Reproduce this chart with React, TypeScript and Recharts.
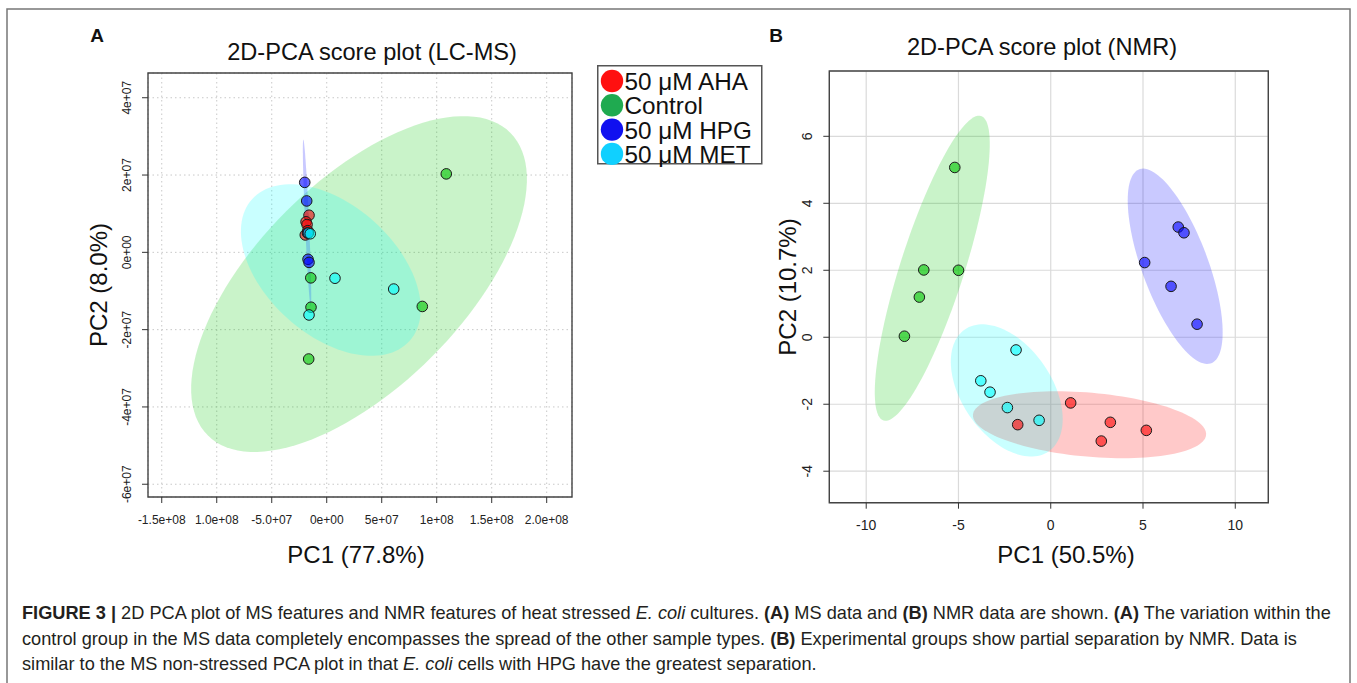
import React from 'react';
import { ScatterChart, Scatter, XAxis, YAxis, CartesianGrid, ReferenceArea, Legend } from 'recharts';

const FONT = "'Liberation Sans', Arial, Helvetica, sans-serif";

const groups = ['50 μM AHA', 'Control', '50 μM HPG', '50 μM MET'];
const legendColors = ['#ff1010', '#1faa50', '#1010f0', '#10d0ff'];
const baseColors = ['#ff0000', '#00c400', '#0000ff', '#00ffff'];

// ---------- Panel A (LC-MS) ----------
const msAHA = [[-1.61e7, 9.6e6], [-1.88e7, 7.9e6], [-1.79e7, 7.2e6], [-1.95e7, 4.5e6], [-1.72e7, 5.6e6]];
const msControl = [[1.087e8, 2.03e7], [-1.45e7, -6.6e6], [-1.43e7, -1.42e7], [8.69e7, -1.4e7], [-1.64e7, -2.76e7]];
const msHPG = [[-2.0e7, 1.81e7], [-1.82e7, 1.33e7], [-1.7e7, -1.8e6], [-1.61e7, -2.6e6], [-1.75e7, 5.0e6]];
const msMET = [[7.5e6, -6.7e6], [6.09e7, -9.5e6], [-1.61e7, -1.62e7], [-1.67e7, 5.0e6], [-1.5e7, 4.8e6]];

const msXTicks = [-1.5e8, -1e8, -5e7, 0, 5e7, 1e8, 1.5e8, 2e8];
const msXLabels = ['-1.5e+08', '1.0e+08', '-5.0+07', '0e+00', '5e+07', '1e+08', '1.5e+08', '2.0e+08'];
const msYTicks = [-6e7, -4e7, -2e7, 0, 2e7, 4e7];
const msYLabels = ['-6e+07', '-4e+07', '-2e+07', '0e+00', '2e+07', '4e+07'];
const msXDomain = [-1.625e8, 2.23e8];
const msYDomain = [-6.33e7, 4.64e7];

// ellipse: centre and two conjugate semi-axis vectors (data units)
const msEllipses = [
  { g: 0, cx: -1.79e7, cy: 7.84e6, ux: 0, uy: 2.6e6, vx: 2.7e6, vy: 0 },
  { g: 1, cx: 2.936e7, cy: -8.2e6, ux: 1.3755e8, uy: 3.915e7, vx: 6.62e7, vy: -1.884e7 },
  { g: 2, cx: -1.79e7, cy: 7.58e6, ux: -3.36e6, uy: 2.158e7, vx: 1.82e6, vy: 0 },
  { g: 3, cx: 3.73e6, cy: -4.58e6, ux: 7.16e7, uy: -1.834e7, vx: -3.95e7, vy: -1.25e7 },
];

// ---------- Panel B (NMR) ----------
const nmrAHA = [[-1.79, -2.61], [1.08, -1.96], [3.23, -2.54], [2.74, -3.1], [5.18, -2.78]];
const nmrControl = [[-5.2, 5.07], [-6.88, 2.01], [-5.0, 2.0], [-7.12, 1.2], [-7.93, 0.03]];
const nmrHPG = [[6.91, 3.29], [7.22, 3.12], [5.09, 2.23], [6.52, 1.52], [7.93, 0.39]];
const nmrMET = [[-1.88, -0.38], [-3.79, -1.3], [-3.29, -1.64], [-2.35, -2.1], [-0.63, -2.48]];

const nmrXTicks = [-10, -5, 0, 5, 10];
const nmrYTicks = [-4, -2, 0, 2, 4, 6];
const nmrXDomain = [-12.0, 11.79];
const nmrYDomain = [-4.94, 7.95];

const nmrEllipses = [
  { g: 0, cx: 2.102, cy: -2.612, ux: 6.316, uy: -0.304, vx: -0.151, vy: -0.952 },
  { g: 1, cx: -6.42, cy: 2.06, ux: 2.643, uy: 4.546, vx: 1.651, vy: -0.291 },
  { g: 2, cx: 6.744, cy: 2.119, ux: -1.511, uy: 2.898, vx: 2.082, vy: -0.329 },
  { g: 3, cx: -2.384, cy: -1.588, ux: 2.27, uy: -1.821, vx: -2.01, vy: -0.761 },
];

const toPts = (arr: number[][]) => arr.map(([x, y]) => ({ x, y }));

function ellipseOutline(e: any, n = 120) {
  const pts = [];
  for (let i = 0; i <= n; i++) {
    const t = (2 * Math.PI * i) / n;
    pts.push({ x: e.cx + e.ux * Math.cos(t) + e.vx * Math.sin(t), y: e.cy + e.uy * Math.cos(t) + e.vy * Math.sin(t) });
  }
  return pts;
}

const polyPath = (points: any[]) =>
  points.map((p, i) => `${i === 0 ? 'M' : 'L'}${p.x},${p.y}`).join(' ') + ' Z';

const dot = (color: string) => (p: any) => (
  <circle cx={p.cx} cy={p.cy} r={5.3} fill={color} fillOpacity={0.6} stroke="#1a1a1a" strokeWidth={1} />
);

const noShape = () => <g />;

function ellipseSeries(list: any[], prefix: string) {
  return list.map((e) => (
    <Scatter
      key={prefix + e.g}
      data={ellipseOutline(e)}
      shape={noShape}
      lineType="joint"
      line={(p: any) => <path d={polyPath(p.points)} fill={baseColors[e.g]} fillOpacity={0.21} stroke="none" />}
      legendType="none"
      isAnimationActive={false}
    />
  ));
}

const LegendBox = () => (
  <svg width={168} height={102} style={{ display: 'block' }}>
    <rect x={0.75} y={0.75} width={164} height={98} fill="#fff" stroke="#555" strokeWidth={1.5} />
    {groups.map((g, i) => (
      <g key={g}>
        <circle cx={15} cy={16 + i * 24.3} r={11.2} fill={legendColors[i]} />
        <text x={27.5} y={16.5 + i * 24.3} dominantBaseline="central" fontSize={24.3} fontFamily={FONT} fill="#111">
          {g}
        </text>
      </g>
    ))}
  </svg>
);

const Caption = () => (
  <text fontFamily={FONT} fontSize={18.2} fill="#231f20">
    <tspan x={22} y={619}>
      <tspan fontWeight="bold">FIGURE 3 |</tspan> 2D PCA plot of MS features and NMR features of heat stressed{' '}
      <tspan fontStyle="italic">E. coli</tspan> cultures. <tspan fontWeight="bold">(A)</tspan> MS data and{' '}
      <tspan fontWeight="bold">(B)</tspan> NMR data are shown. <tspan fontWeight="bold">(A)</tspan> The variation within the
    </tspan>
    <tspan x={22} y={644.5}>
      control group in the MS data completely encompasses the spread of the other sample types.{' '}
      <tspan fontWeight="bold">(B)</tspan> Experimental groups show partial separation by NMR. Data is
    </tspan>
    <tspan x={22} y={670}>
      similar to the MS non-stressed PCA plot in that <tspan fontStyle="italic">E. coli</tspan> cells with HPG have the greatest separation.
    </tspan>
  </text>
);

export default function App() {
  const msGroups = [msAHA, msControl, msHPG, msMET];
  const nmrGroups = [nmrAHA, nmrControl, nmrHPG, nmrMET];

  const msXTick = (p: any) => {
    const i = msXTicks.indexOf(p.payload.value);
    return (
      <text x={p.x} y={p.y + 15} textAnchor="middle" dominantBaseline="central" fontSize={12} fontFamily={FONT} fill="#222">
        {msXLabels[i]}
      </text>
    );
  };
  const msYTick = (p: any) => {
    const i = msYTicks.indexOf(p.payload.value);
    const x = p.x - 13;
    return (
      <text x={x} y={p.y} transform={`rotate(-90 ${x} ${p.y})`} textAnchor="middle" dominantBaseline="central" fontSize={12} fontFamily={FONT} fill="#222">
        {msYLabels[i]}
      </text>
    );
  };
  const nmrXTick = (p: any) => (
    <text x={p.x} y={p.y + 14} textAnchor="middle" dominantBaseline="central" fontSize={14} fontFamily={FONT} fill="#222">
      {p.payload.value}
    </text>
  );
  const nmrYTick = (p: any) => {
    const x = p.x - 14.5;
    return (
      <text x={x} y={p.y} transform={`rotate(-90 ${x} ${p.y})`} textAnchor="middle" dominantBaseline="central" fontSize={14} fontFamily={FONT} fill="#222">
        {p.payload.value}
      </text>
    );
  };

  return (
    <div style={{ position: 'absolute', left: 0, top: 0, width: 1357, height: 683, background: '#fff', overflow: 'hidden', fontFamily: FONT }}>
      <svg width={1357} height={683} style={{ position: 'absolute', left: 0, top: 0 }}>
        <rect x={7} y={9} width={1343} height={720} fill="none" stroke="#777" strokeWidth={1.5} />
        <text x={97} y={42} textAnchor="middle" fontSize={19} fontWeight="bold" fontFamily={FONT} fill="#111">A</text>
        <text x={776} y={42} textAnchor="middle" fontSize={19} fontWeight="bold" fontFamily={FONT} fill="#111">B</text>
        <text x={372} y={52} textAnchor="middle" dominantBaseline="central" fontSize={23.6} fontFamily={FONT} fill="#111">2D-PCA score plot (LC-MS)</text>
        <text x={1042} y={47} textAnchor="middle" dominantBaseline="central" fontSize={23.6} fontFamily={FONT} fill="#111">2D-PCA score plot (NMR)</text>
        <text x={356} y={554} textAnchor="middle" dominantBaseline="central" fontSize={24} fontFamily={FONT} fill="#111">PC1 (77.8%)</text>
        <text x={1066} y={554} textAnchor="middle" dominantBaseline="central" fontSize={24} fontFamily={FONT} fill="#111">PC1 (50.5%)</text>
        <text x={98} y={285} transform="rotate(-90 98 285)" textAnchor="middle" dominantBaseline="central" fontSize={24} fontFamily={FONT} fill="#111">PC2 (8.0%)</text>
        <text x={787} y={287} transform="rotate(-90 787 287)" textAnchor="middle" dominantBaseline="central" fontSize={24} fontFamily={FONT} fill="#111">PC2 (10.7%)</text>
        <Caption />
      </svg>

      <div style={{ position: 'absolute', left: 0, top: 0 }}>
        <ScatterChart width={780} height={560} margin={{ top: 73, left: 108, right: 208, bottom: 23 }}>
          <CartesianGrid stroke="#c8c8c8" strokeDasharray="1.5 3" />
          <XAxis type="number" dataKey="x" domain={msXDomain} ticks={msXTicks} interval={0} allowDataOverflow height={40}
            axisLine={false} tickLine={{ stroke: '#333' }} tickSize={6} tick={msXTick} />
          <YAxis type="number" dataKey="y" domain={msYDomain} ticks={msYTicks} interval={0} allowDataOverflow width={40}
            axisLine={false} tickLine={{ stroke: '#333' }} tickSize={6} tick={msYTick} />
          {ellipseSeries(msEllipses, 'msE')}
          {msGroups.map((arr, i) => (
            <Scatter key={'ms' + i} name={groups[i]} data={toPts(arr)} shape={dot(baseColors[i])} isAnimationActive={false} />
          ))}
          <ReferenceArea x1={msXDomain[0]} x2={msXDomain[1]} y1={msYDomain[0]} y2={msYDomain[1]} fill="none" stroke="#444" strokeWidth={1.4} fillOpacity={0} />
          <Legend layout="vertical" align="center" verticalAlign="middle" content={() => <LegendBox />}
            wrapperStyle={{ left: 597, top: 65, width: 168, height: 102 }} />
        </ScatterChart>
      </div>

      <div style={{ position: 'absolute', left: 700, top: 0 }}>
        <ScatterChart width={657} height={560} margin={{ top: 71, left: 89.3, right: 88.7, bottom: 17.3 }}>
          <CartesianGrid stroke="#dadada" strokeWidth={1.2} />
          <XAxis type="number" dataKey="x" domain={nmrXDomain} ticks={nmrXTicks} interval={0} allowDataOverflow height={40}
            axisLine={false} tickLine={{ stroke: '#333' }} tickSize={6} tick={nmrXTick} />
          <YAxis type="number" dataKey="y" domain={nmrYDomain} ticks={nmrYTicks} interval={0} allowDataOverflow width={40}
            axisLine={false} tickLine={{ stroke: '#333' }} tickSize={6} tick={nmrYTick} />
          {ellipseSeries(nmrEllipses, 'nmrE')}
          {nmrGroups.map((arr, i) => (
            <Scatter key={'nmr' + i} name={groups[i]} data={toPts(arr)} shape={dot(baseColors[i])} isAnimationActive={false} />
          ))}
          <ReferenceArea x1={nmrXDomain[0]} x2={nmrXDomain[1]} y1={nmrYDomain[0]} y2={nmrYDomain[1]} fill="none" stroke="#444" strokeWidth={1.4} fillOpacity={0} />
        </ScatterChart>
      </div>
    </div>
  );
}
